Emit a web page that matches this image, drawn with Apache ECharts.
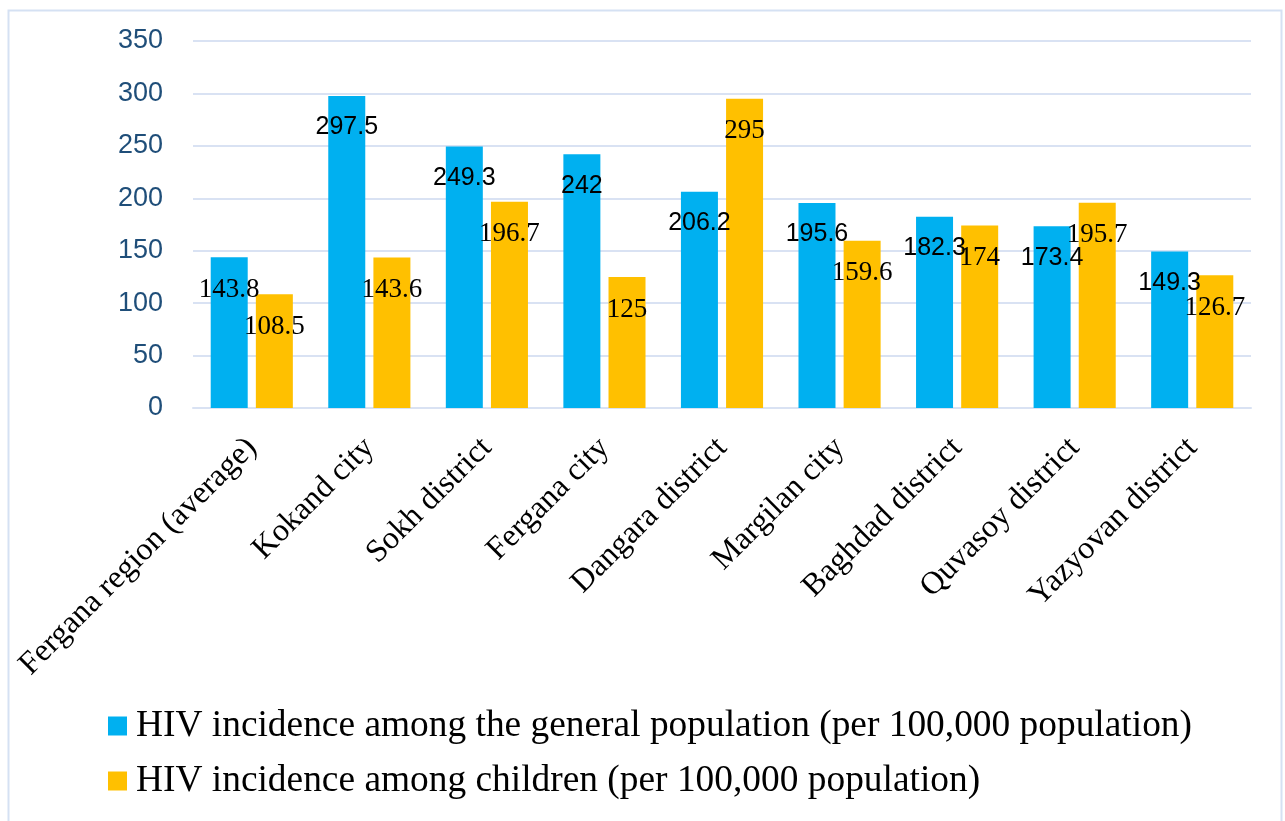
<!DOCTYPE html>
<html>
<head>
<meta charset="utf-8">
<script src="https://cdn.jsdelivr.net/npm/echarts@6/dist/echarts.min.js"></script>
<style>
  html, body { margin: 0; padding: 0; background: #fff; }
  #chart { width: 1285px; height: 821px; }
</style>
</head>
<body>
<div id="chart"></div>
<script>
// Districts of the Fergana region
const categories = [
  'Fergana region (average)', 'Kokand city', 'Sokh district', 'Fergana city',
  'Dangara district', 'Margilan city', 'Baghdad district', 'Quvasoy district', 'Yazyovan district'
];
const generalName = 'HIV incidence among the general population (per 100,000 population)';
const childrenName = 'HIV incidence among children (per 100,000 population)';
const generalValues = [143.8, 297.5, 249.3, 242, 206.2, 195.6, 182.3, 173.4, 149.3];
const childrenValues = [108.5, 143.6, 196.7, 125, 295, 159.6, 174, 195.7, 126.7];
const yTicks = [0, 50, 100, 150, 200, 250, 300, 350];

const SERIF = '"Liberation Serif", "Times New Roman", serif';
const SANS = '"Liberation Sans", Arial, sans-serif';

const chart = echarts.init(document.getElementById('chart'));

// the first general-population label is set in serif, the rest in sans
const generalData = generalValues.map((v, i) => ({
  value: v,
  label: i === 0 ? { fontFamily: SERIF, fontSize: 27 } : {}
}));

chart.setOption({
  animation: false,
  backgroundColor: '#ffffff',
  graphic: [{
    type: 'rect',
    left: 6, top: 8,
    shape: { width: 1273, height: 812 },
    style: { fill: 'none', stroke: '#D5E1F3', lineWidth: 2 },
    silent: true
  }],
  grid: { left: 193, right: 34, top: 41, bottom: 413 },
  legend: {
    orient: 'vertical',
    left: 103,
    top: 702,
    itemWidth: 19,
    itemHeight: 19,
    itemGap: 17,
    icon: 'rect',
    textStyle: { fontFamily: SERIF, fontSize: 37.4, color: '#000', lineHeight: 38, padding: [0, 0, 0, 4] },
    data: [generalName, childrenName]
  },
  xAxis: {
    type: 'category',
    data: categories,
    axisLine: { show: true, lineStyle: { color: '#D9E2F3', width: 2 } },
    axisTick: { show: false },
    axisLabel: {
      interval: 0,
      rotate: 45,
      margin: 35,
      fontFamily: SERIF,
      fontSize: 32,
      color: '#000'
    }
  },
  yAxis: {
    type: 'value',
    min: yTicks[0],
    max: yTicks[yTicks.length - 1],
    interval: 50,
    axisLine: { show: false },
    axisTick: { show: false },
    splitLine: { lineStyle: { color: '#D9E2F3', width: 2 } },
    axisLabel: {
      margin: 30,
      fontFamily: SANS,
      fontSize: 27,
      color: '#1F4E79'
    }
  },
  series: [
    {
      name: generalName,
      type: 'bar',
      data: generalData,
      barWidth: 37,
      barGap: '22%',
      itemStyle: { color: '#00B0F0' },
      label: {
        show: true,
        position: 'insideTop',
        distance: 19,
        fontFamily: SANS,
        fontSize: 25,
        color: '#000'
      }
    },
    {
      name: childrenName,
      type: 'bar',
      data: childrenValues,
      barWidth: 37,
      barGap: '22%',
      itemStyle: { color: '#FFC000' },
      label: {
        show: true,
        position: 'insideTop',
        distance: 19,
        fontFamily: SERIF,
        fontSize: 27,
        color: '#000'
      }
    }
  ]
});
</script>
</body>
</html>
